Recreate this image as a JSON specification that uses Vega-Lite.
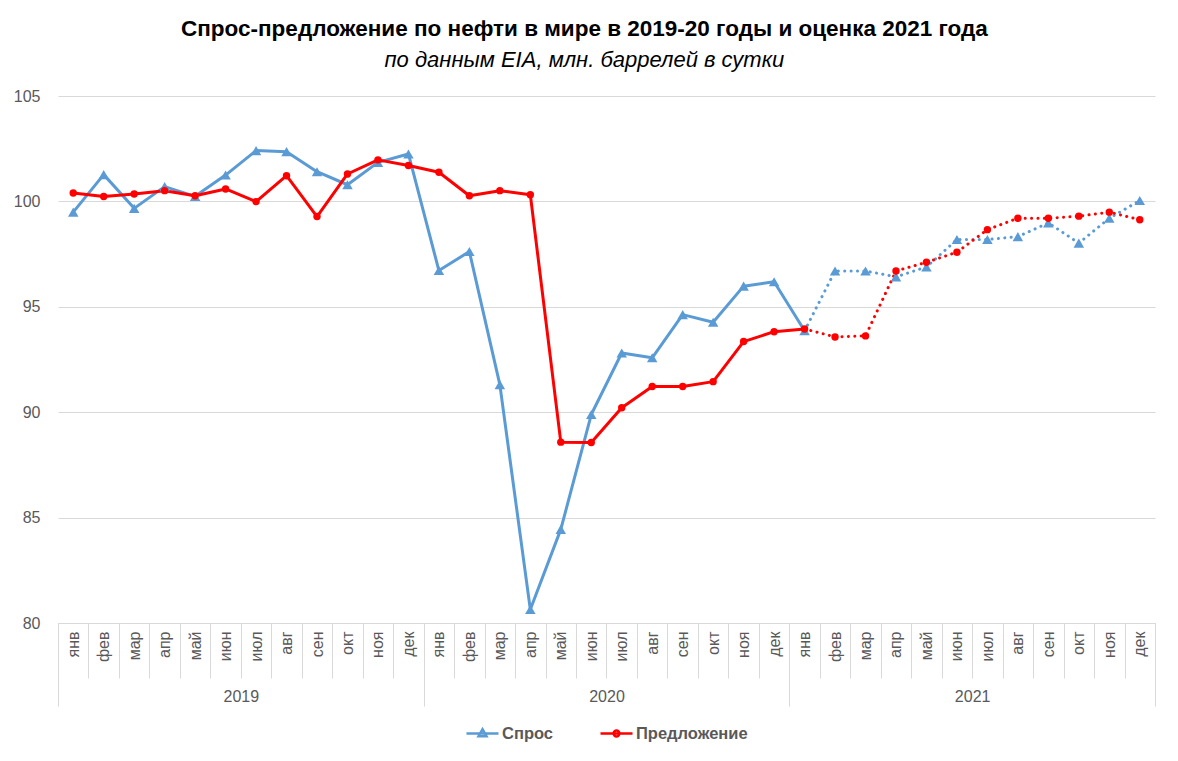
{
  "$schema": "https://vega.github.io/schema/vega-lite/v6.json",
  "width": 1097,
  "height": 527,
  "padding": {"left": 13, "top": 17, "right": 23, "bottom": 5},
  "background": "white",
  "title": {
    "text": "Спрос-предложение по нефти в мире в 2019-20 годы и оценка 2021 года",
    "subtitle": "по данным EIA, млн. баррелей в сутки",
    "font": "Liberation Sans",
    "fontSize": 22.5,
    "fontWeight": "bold",
    "color": "#000000",
    "subtitleFont": "Liberation Sans",
    "subtitleFontSize": 22,
    "subtitleFontStyle": "italic",
    "subtitleColor": "#000000",
    "subtitlePadding": 10,
    "offset": 17,
    "anchor": "middle",
    "frame": "bounds"
  },
  "data": {
    "values": [
      {"k": "2019-01", "yr": "2019", "s": "Спрос", "v": 99.49},
      {"k": "2019-02", "yr": "2019", "s": "Спрос", "v": 101.27},
      {"k": "2019-03", "yr": "2019", "s": "Спрос", "v": 99.67},
      {"k": "2019-04", "yr": "2019", "s": "Спрос", "v": 100.70},
      {"k": "2019-05", "yr": "2019", "s": "Спрос", "v": 100.24},
      {"k": "2019-06", "yr": "2019", "s": "Спрос", "v": 101.25},
      {"k": "2019-07", "yr": "2019", "s": "Спрос", "v": 102.41},
      {"k": "2019-08", "yr": "2019", "s": "Спрос", "v": 102.36},
      {"k": "2019-09", "yr": "2019", "s": "Спрос", "v": 101.41},
      {"k": "2019-10", "yr": "2019", "s": "Спрос", "v": 100.79},
      {"k": "2019-11", "yr": "2019", "s": "Спрос", "v": 101.85},
      {"k": "2019-12", "yr": "2019", "s": "Спрос", "v": 102.25},
      {"k": "2020-01", "yr": "2020", "s": "Спрос", "v": 96.72},
      {"k": "2020-02", "yr": "2020", "s": "Спрос", "v": 97.62},
      {"k": "2020-03", "yr": "2020", "s": "Спрос", "v": 91.31},
      {"k": "2020-04", "yr": "2020", "s": "Спрос", "v": 80.64},
      {"k": "2020-05", "yr": "2020", "s": "Спрос", "v": 84.44},
      {"k": "2020-06", "yr": "2020", "s": "Спрос", "v": 89.89},
      {"k": "2020-07", "yr": "2020", "s": "Спрос", "v": 92.81},
      {"k": "2020-08", "yr": "2020", "s": "Спрос", "v": 92.58},
      {"k": "2020-09", "yr": "2020", "s": "Спрос", "v": 94.63},
      {"k": "2020-10", "yr": "2020", "s": "Спрос", "v": 94.27},
      {"k": "2020-11", "yr": "2020", "s": "Спрос", "v": 95.98},
      {"k": "2020-12", "yr": "2020", "s": "Спрос", "v": 96.19},
      {"k": "2021-01", "yr": "2021", "s": "Спрос", "v": 93.86},
      {"k": "2021-02", "yr": "2021", "s": "Спрос", "v": 96.70},
      {"k": "2021-03", "yr": "2021", "s": "Спрос", "v": 96.70},
      {"k": "2021-04", "yr": "2021", "s": "Спрос", "v": 96.42},
      {"k": "2021-05", "yr": "2021", "s": "Спрос", "v": 96.89},
      {"k": "2021-06", "yr": "2021", "s": "Спрос", "v": 98.19},
      {"k": "2021-07", "yr": "2021", "s": "Спрос", "v": 98.19},
      {"k": "2021-08", "yr": "2021", "s": "Спрос", "v": 98.33},
      {"k": "2021-09", "yr": "2021", "s": "Спрос", "v": 98.98},
      {"k": "2021-10", "yr": "2021", "s": "Спрос", "v": 98.02},
      {"k": "2021-11", "yr": "2021", "s": "Спрос", "v": 99.20},
      {"k": "2021-12", "yr": "2021", "s": "Спрос", "v": 100.04},
      {"k": "2019-01", "yr": "2019", "s": "Предложение", "v": 100.40},
      {"k": "2019-02", "yr": "2019", "s": "Предложение", "v": 100.23},
      {"k": "2019-03", "yr": "2019", "s": "Предложение", "v": 100.35},
      {"k": "2019-04", "yr": "2019", "s": "Предложение", "v": 100.51},
      {"k": "2019-05", "yr": "2019", "s": "Предложение", "v": 100.27},
      {"k": "2019-06", "yr": "2019", "s": "Предложение", "v": 100.59},
      {"k": "2019-07", "yr": "2019", "s": "Предложение", "v": 99.99},
      {"k": "2019-08", "yr": "2019", "s": "Предложение", "v": 101.22},
      {"k": "2019-09", "yr": "2019", "s": "Предложение", "v": 99.28},
      {"k": "2019-10", "yr": "2019", "s": "Предложение", "v": 101.30},
      {"k": "2019-11", "yr": "2019", "s": "Предложение", "v": 101.97},
      {"k": "2019-12", "yr": "2019", "s": "Предложение", "v": 101.70},
      {"k": "2020-01", "yr": "2020", "s": "Предложение", "v": 101.38},
      {"k": "2020-02", "yr": "2020", "s": "Предложение", "v": 100.27},
      {"k": "2020-03", "yr": "2020", "s": "Предложение", "v": 100.51},
      {"k": "2020-04", "yr": "2020", "s": "Предложение", "v": 100.32},
      {"k": "2020-05", "yr": "2020", "s": "Предложение", "v": 88.58},
      {"k": "2020-06", "yr": "2020", "s": "Предложение", "v": 88.56},
      {"k": "2020-07", "yr": "2020", "s": "Предложение", "v": 90.21},
      {"k": "2020-08", "yr": "2020", "s": "Предложение", "v": 91.22},
      {"k": "2020-09", "yr": "2020", "s": "Предложение", "v": 91.22},
      {"k": "2020-10", "yr": "2020", "s": "Предложение", "v": 91.45},
      {"k": "2020-11", "yr": "2020", "s": "Предложение", "v": 93.35},
      {"k": "2020-12", "yr": "2020", "s": "Предложение", "v": 93.82},
      {"k": "2021-01", "yr": "2021", "s": "Предложение", "v": 93.95},
      {"k": "2021-02", "yr": "2021", "s": "Предложение", "v": 93.57},
      {"k": "2021-03", "yr": "2021", "s": "Предложение", "v": 93.62},
      {"k": "2021-04", "yr": "2021", "s": "Предложение", "v": 96.70},
      {"k": "2021-05", "yr": "2021", "s": "Предложение", "v": 97.11},
      {"k": "2021-06", "yr": "2021", "s": "Предложение", "v": 97.59},
      {"k": "2021-07", "yr": "2021", "s": "Предложение", "v": 98.66},
      {"k": "2021-08", "yr": "2021", "s": "Предложение", "v": 99.20},
      {"k": "2021-09", "yr": "2021", "s": "Предложение", "v": 99.20},
      {"k": "2021-10", "yr": "2021", "s": "Предложение", "v": 99.30},
      {"k": "2021-11", "yr": "2021", "s": "Предложение", "v": 99.49},
      {"k": "2021-12", "yr": "2021", "s": "Предложение", "v": 99.13}
    ]
  },
  "layer": [
    {
      "encoding": {
        "x": {
          "field": "k",
          "type": "ordinal",
          "sort": "ascending",
          "scale": {"type": "band", "paddingInner": 0, "paddingOuter": 0},
          "axis": {
            "orient": "bottom",
            "title": null,
            "tickBand": "extent",
            "tickSize": 55,
            "tickColor": "#D9D9D9",
            "tickWidth": 1,
            "domainColor": "#D9D9D9",
            "domainWidth": 1,
            "labelAngle": -90,
            "labelAlign": "right",
            "labelBaseline": "middle",
            "labelPadding": -47,
            "labelFont": "Liberation Sans",
            "labelFontSize": 16,
            "labelColor": "#595959",
            "labelExpr": "['янв','фев','мар','апр','май','июн','июл','авг','сен','окт','ноя','дек'][toNumber(substring(datum.value,5,7))-1]",
            "grid": false
          }
        },
        "y": {
          "field": "v",
          "type": "quantitative",
          "scale": {"domain": [80, 105], "zero": false, "nice": false},
          "axis": {
            "title": null,
            "values": [80, 85, 90, 95, 100, 105],
            "domain": false,
            "ticks": false,
            "grid": true,
            "gridColor": "#D9D9D9",
            "gridWidth": 1,
            "labelFont": "Liberation Sans",
            "labelFontSize": 16,
            "labelColor": "#595959",
            "labelPadding": 18
          }
        }
      },
      "layer": [
        {
          "transform": [{"filter": "datum.s === 'Спрос' && datum.k <= '2021-01'"}],
          "mark": {"type": "line", "color": "#5B9BD5", "strokeWidth": 3, "strokeJoin": "round"},
          "encoding": {}
        },
        {
          "transform": [{"filter": "datum.s === 'Спрос' && datum.k >= '2021-01'"}],
          "mark": {"type": "line", "color": "#5B9BD5", "strokeWidth": 3, "strokeDash": [0.1, 6.3], "strokeCap": "round"},
          "encoding": {}
        },
        {
          "transform": [{"filter": "datum.s === 'Предложение' && datum.k <= '2021-01'"}],
          "mark": {"type": "line", "color": "#FF0000", "strokeWidth": 3, "strokeJoin": "round"},
          "encoding": {}
        },
        {
          "transform": [{"filter": "datum.s === 'Предложение' && datum.k >= '2021-01'"}],
          "mark": {"type": "line", "color": "#FF0000", "strokeWidth": 3, "strokeDash": [0.1, 6.3], "strokeCap": "round"},
          "encoding": {}
        },
        {
          "transform": [{"filter": "datum.s === 'Спрос'"}],
          "mark": {"type": "point", "filled": true, "opacity": 1, "shape": "triangle-up", "size": 110, "color": "#5B9BD5"},
          "encoding": {}
        },
        {
          "transform": [{"filter": "datum.s === 'Предложение'"}],
          "mark": {"type": "point", "filled": true, "opacity": 1, "shape": "circle", "size": 55, "color": "#FF0000"},
          "encoding": {}
        }
      ]
    },
    {
      "mark": {"type": "point", "opacity": 0},
      "encoding": {
        "x": {
          "field": "yr",
          "type": "ordinal",
          "scale": {"type": "band", "paddingInner": 0, "paddingOuter": 0},
          "axis": {
            "orient": "bottom",
            "title": null,
            "tickBand": "extent",
            "tickSize": 83,
            "tickColor": "#D9D9D9",
            "tickWidth": 1,
            "domain": false,
            "labelAngle": 0,
            "labelAlign": "center",
            "labelBaseline": "top",
            "labelPadding": -18,
            "labelFont": "Liberation Sans",
            "labelFontSize": 16,
            "labelColor": "#595959",
            "grid": false
          }
        }
      }
    },
    {
      "transform": [{"filter": "false"}],
      "mark": {"type": "point", "filled": false, "strokeWidth": 2.5, "size": 1024, "opacity": 1},
      "encoding": {
        "color": {
          "field": "s",
          "type": "nominal",
          "scale": {"domain": ["Спрос", "Предложение"], "range": ["#5B9BD5", "#FF0000"]},
          "legend": {
            "title": null,
            "orient": "bottom",
            "direction": "horizontal",
            "offset": 9,
            "labelFont": "Liberation Sans",
            "labelFontSize": 16.5,
            "labelFontWeight": "bold",
            "labelColor": "#595959",
            "labelOffset": 2,
            "columnPadding": 42,
            "symbolSize": 1024,
            "symbolStrokeWidth": 2.5,
            "symbolOpacity": 1
          }
        },
        "shape": {
          "field": "s",
          "type": "nominal",
          "scale": {
            "domain": ["Спрос", "Предложение"],
            "range": [
              "M-1,0H1M0,-0.27L0.25,0.17L-0.25,0.17Z",
              "M-1,0H1M0.18,0A0.18,0.18,0,1,1,-0.18,0A0.18,0.18,0,1,1,0.18,0Z"
            ]
          },
          "legend": {
            "title": null,
            "orient": "bottom",
            "direction": "horizontal",
            "offset": 9,
            "labelFont": "Liberation Sans",
            "labelFontSize": 16.5,
            "labelFontWeight": "bold",
            "labelColor": "#595959",
            "labelOffset": 2,
            "columnPadding": 42,
            "symbolSize": 1024,
            "symbolStrokeWidth": 2.5,
            "symbolOpacity": 1
          }
        }
      }
    }
  ],
  "resolve": {"scale": {"x": "independent"}, "axis": {"x": "independent"}},
  "config": {
    "view": {"stroke": null},
    "legend": {"layout": {"bottom": {"anchor": "middle"}}}
  }
}
